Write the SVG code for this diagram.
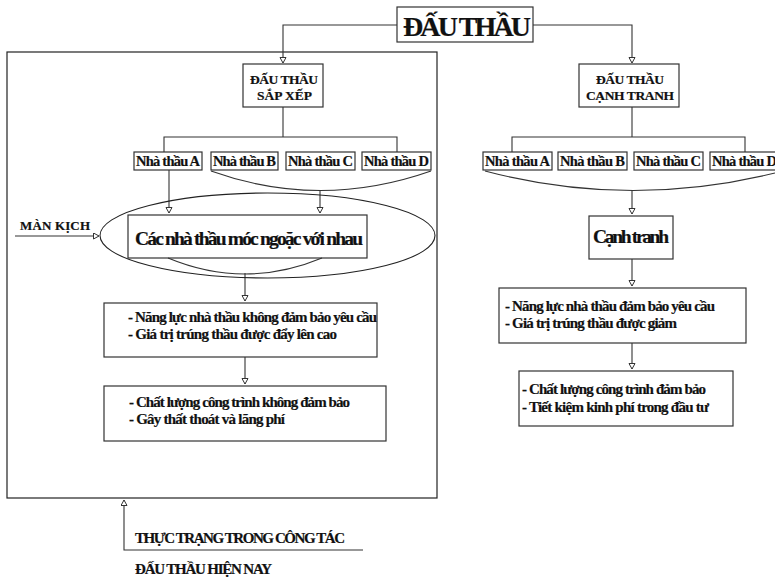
<svg xmlns="http://www.w3.org/2000/svg" width="775" height="578" viewBox="0 0 775 578">
  <style>
    .box { fill: #fff; stroke: #333; stroke-width: 1.2; }
    .frame { fill: none; stroke: #222; stroke-width: 1.2; }
    .wire { fill: none; stroke: #333; stroke-width: 1.1; }
    text { font-family: "Liberation Serif", "Times New Roman", serif; font-weight: bold; fill: #111; stroke: #111; stroke-width: 0.2; }
    .t13 { font-size: 13.5px; }
    .t14 { font-size: 15px; }
    .tc { font-size: 14.5px; }
    .t18 { font-size: 19.5px; }
  </style>
  <defs>
    <marker id="arrow" markerWidth="8" markerHeight="8" refX="6" refY="3.5" orient="auto" markerUnits="userSpaceOnUse">
      <path d="M0.5,0.5 L6,3.5 L0.5,6.5 Z" fill="#fff" stroke="#333" stroke-width="1"/>
    </marker>
  </defs>

  <!-- outer frame around the arranged-bidding branch -->
  <rect class="frame" x="7" y="52" width="430" height="446"/>

  <!-- connectors -->
  <g id="connectors">
    <path class="wire" d="M397,25 H283 V63" marker-end="url(#arrow)"/>
    <path class="wire" d="M533,25 H632 V63" marker-end="url(#arrow)"/>
    <path class="wire" d="M283,107 V137"/>
    <path class="wire" d="M164,152 V137 H397 V152"/>
    <path class="wire" d="M632,107 V137"/>
    <path class="wire" d="M512,152 V137 H745 V152"/>
    <path class="wire" d="M169,170 V213" marker-end="url(#arrow)"/>
    <path class="wire" d="M211,171 Q320,210 431,171"/>
    <path class="wire" d="M320,190 V213" marker-end="url(#arrow)"/>
    <path class="wire" d="M485,171 Q629,209 775,173"/>
    <path class="wire" d="M632,190 V214" marker-end="url(#arrow)"/>
    <path class="wire" d="M245,273 V301" marker-end="url(#arrow)"/>
    <path class="wire" d="M245,357 V384" marker-end="url(#arrow)"/>
    <path class="wire" d="M632,259 V286" marker-end="url(#arrow)"/>
    <path class="wire" d="M632,343 V369" marker-end="url(#arrow)"/>
    <path class="wire" d="M15,236 H99" marker-end="url(#arrow)"/>
    <path class="wire" d="M363,550 H124 V500" marker-end="url(#arrow)"/>
  </g>

  <!-- top node -->
  <g id="dau-thau">
    <rect class="box" x="397" y="7" width="136" height="35"/>
    <text x="403" y="36" style="font-size:28px" textLength="128">ĐẤU THẦU</text>
  </g>

  <g id="dau-thau-sap-xep">
    <rect class="box" x="243" y="64" width="80" height="43"/>
    <text x="250" y="84" class="t13" textLength="68">ĐẤU THẦU</text>
    <text x="257" y="100" class="t13" textLength="55">SẮP XẾP</text>
  </g>

  <g id="dau-thau-canh-tranh">
    <rect class="box" x="579" y="64" width="100" height="43"/>
    <text x="596" y="84" class="t13" textLength="68">ĐẤU THẦU</text>
    <text x="586" y="100" class="t13" textLength="88">CẠNH TRANH</text>
  </g>

  <!-- contractors, arranged side -->
  <g id="sx-a"><rect class="box" x="134" y="152" width="68" height="18"/><text x="136" y="166" class="tc" textLength="64">Nhà thầu A</text></g>
  <g id="sx-b"><rect class="box" x="211" y="152" width="67" height="18"/><text x="213" y="166" class="tc" textLength="63">Nhà thầu B</text></g>
  <g id="sx-c"><rect class="box" x="286" y="152" width="69" height="18"/><text x="288" y="166" class="tc" textLength="65">Nhà thầu C</text></g>
  <g id="sx-d"><rect class="box" x="362" y="152" width="69" height="18"/><text x="364" y="166" class="tc" textLength="65">Nhà thầu D</text></g>

  <!-- contractors, competitive side -->
  <g id="ct-a"><rect class="box" x="483" y="152" width="69" height="18"/><text x="485" y="166" class="tc" textLength="65">Nhà thầu A</text></g>
  <g id="ct-b"><rect class="box" x="558" y="152" width="69" height="18"/><text x="560" y="166" class="tc" textLength="65">Nhà thầu B</text></g>
  <g id="ct-c"><rect class="box" x="634" y="152" width="69" height="18"/><text x="636" y="166" class="tc" textLength="65">Nhà thầu C</text></g>
  <g id="ct-d"><rect class="box" x="710" y="152" width="69" height="18"/><text x="712" y="166" class="tc" textLength="65">Nhà thầu D</text></g>

  <!-- collusion -->
  <g id="moc-ngoac">
    <ellipse cx="267.5" cy="235.5" rx="167.5" ry="42.5" fill="none" stroke="#222" stroke-width="1.1"/>
    <rect class="box" x="128" y="215" width="239" height="43"/>
    <path class="wire" d="M168,258 Q245,290 322,258"/>
    <text x="135" y="245" class="t18" textLength="228">Các nhà thầu móc ngoặc với nhau</text>
  </g>

  <g id="man-kich">
    <text x="20" y="230" style="font-size:13px" textLength="70">MÀN KỊCH</text>
  </g>

  <g id="hau-qua-1">
    <rect class="box" x="104" y="303" width="273" height="54"/>
    <text x="128" y="322" class="t14" textLength="249">- Năng lực nhà thầu không đảm bảo yêu cầu</text>
    <text x="128" y="339" class="t14" textLength="209">- Giá trị trúng thầu được đẩy lên cao</text>
  </g>

  <g id="hau-qua-2">
    <rect class="box" x="104" y="386" width="282" height="55"/>
    <text x="129" y="407" class="t14" textLength="221">- Chất lượng công trình không đảm bảo</text>
    <text x="129" y="424" class="t14" textLength="156">- Gây thất thoát và lãng phí</text>
  </g>

  <g id="canh-tranh">
    <rect class="box" x="589" y="216" width="84" height="43"/>
    <text x="593" y="243" class="t18" textLength="76">Cạnh tranh</text>
  </g>

  <g id="ket-qua-1">
    <rect class="box" x="499" y="288" width="247" height="55"/>
    <text x="505" y="311" class="t14" textLength="210">- Năng lực nhà thầu đảm bảo yêu cầu</text>
    <text x="505" y="328" class="t14" textLength="172">- Giá trị trúng thầu được giảm</text>
  </g>

  <g id="ket-qua-2">
    <rect class="box" x="519" y="371" width="214" height="55"/>
    <text x="522" y="394" class="t14" textLength="184">- Chất lượng công trình đảm bảo</text>
    <text x="522" y="412" class="t14" textLength="187">- Tiết kiệm kinh phí trong đầu tư</text>
  </g>

  <g id="thuc-trang">
    <text x="135" y="543" class="t14" textLength="210">THỰC TRẠNG TRONG CÔNG TÁC</text>
    <text x="135" y="574" class="t14" textLength="137">ĐẤU THẦU HIỆN NAY</text>
  </g>
</svg>
